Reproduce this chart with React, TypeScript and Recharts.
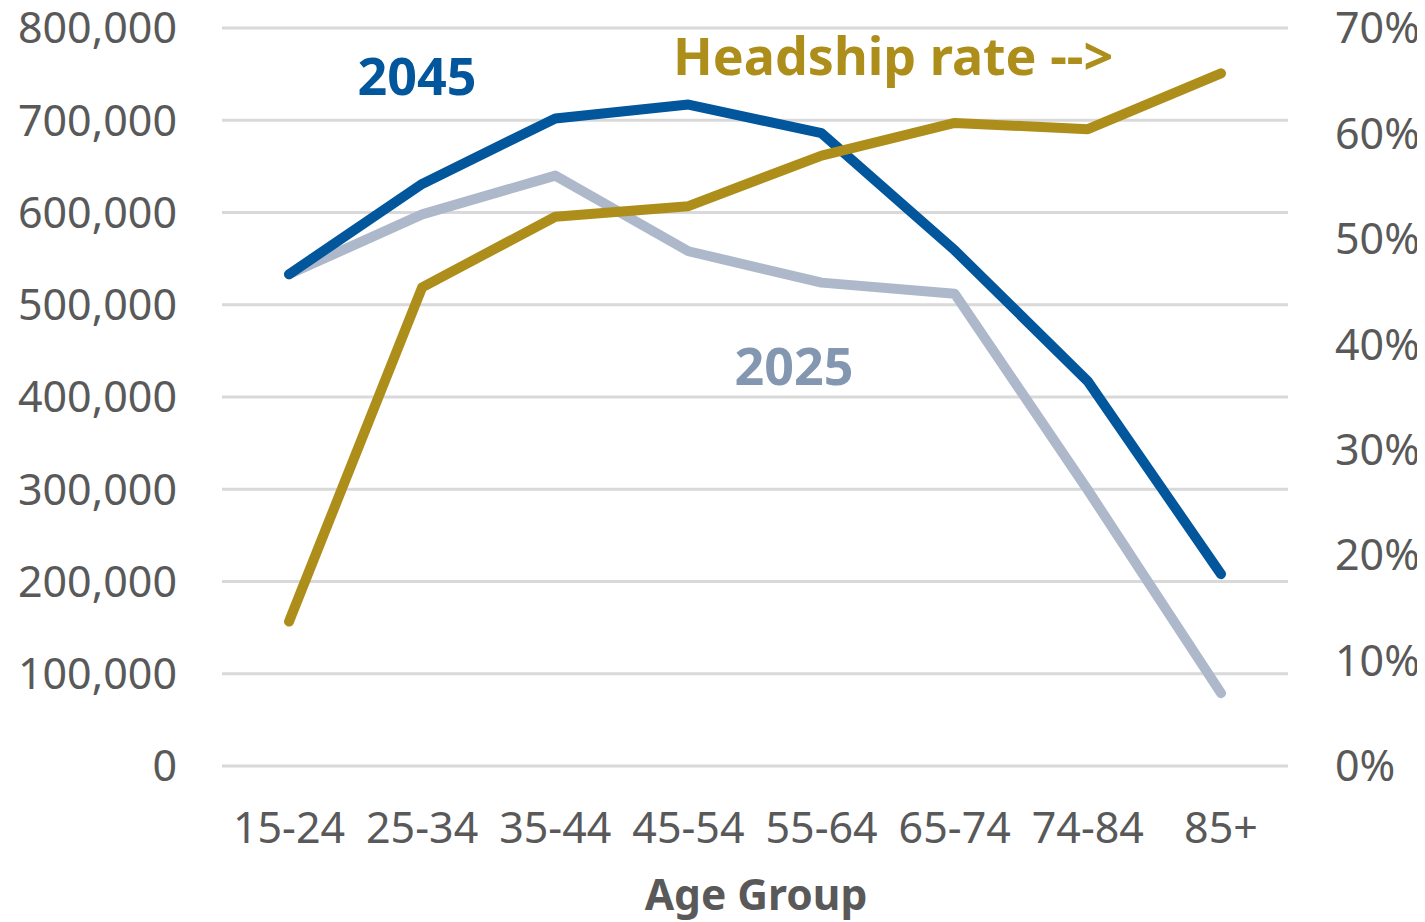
import React from "react";
import { LineChart, Line, XAxis, YAxis, CartesianGrid } from "recharts";

const ageGroups = ["15-24", "25-34", "35-44", "45-54", "55-64", "65-74", "74-84", "85+"];
const households2045 = [533000, 631000, 702000, 717000, 686000, 559000, 417000, 208000];
const households2025 = [533000, 598000, 640000, 558000, 524000, 512000, 299000, 79000];
const headshipRate = [0.137, 0.454, 0.521, 0.531, 0.579, 0.61, 0.604, 0.657];
const leftTicks = [0, 100000, 200000, 300000, 400000, 500000, 600000, 700000, 800000];
const rightTicks = [0, 0.1, 0.2, 0.3, 0.4, 0.5, 0.6, 0.7];

const data = ageGroups.map((g, i) => ({
  group: g,
  y2045: households2045[i],
  y2025: households2025[i],
  rate: headshipRate[i],
}));

const FONT = "'Noto Sans', 'Open Sans', sans-serif";
const TICK = { fill: "#595959", fontSize: 43, fontFamily: FONT };

export default function App() {
  return (
    <div style={{ marginTop: -8, marginLeft: -8, width: 1425, height: 922 }}>
      <LineChart
        width={1425}
        height={922}
        data={data}
        margin={{ top: 28, right: 0, bottom: 0, left: 0 }}
      >
        <CartesianGrid yAxisId="left" vertical={false} stroke="#d9d9d9" strokeWidth={3} />
        <XAxis
          dataKey="group"
          axisLine={false}
          tickLine={false}
          tickSize={0}
          tickMargin={46}
          height={156}
          padding={{ left: 67, right: 67 }}
          tick={TICK}
          interval={0}
        />
        <YAxis
          yAxisId="left"
          orientation="left"
          domain={[0, 800000]}
          ticks={leftTicks}
          width={222}
          axisLine={false}
          tickLine={false}
          tickSize={0}
          tickMargin={45}
          tick={TICK}
          tickFormatter={(v: number) => v.toLocaleString("en-US")}
        />
        <YAxis
          yAxisId="right"
          orientation="right"
          domain={[0, 0.7]}
          ticks={rightTicks}
          width={137}
          axisLine={false}
          tickLine={false}
          tickSize={0}
          tickMargin={47}
          tick={TICK}
          tickFormatter={(v: number) => `${Math.round(v * 100)}%`}
        />
        <Line
          yAxisId="left"
          dataKey="y2025"
          stroke="#adb9cb"
          strokeWidth={10}
          strokeLinecap="round"
          strokeLinejoin="round"
          dot={false}
          activeDot={false}
          isAnimationActive={false}
        />
        <Line
          yAxisId="left"
          dataKey="y2045"
          stroke="#02569c"
          strokeWidth={10}
          strokeLinecap="round"
          strokeLinejoin="round"
          dot={false}
          activeDot={false}
          isAnimationActive={false}
        />
        <Line
          yAxisId="right"
          dataKey="rate"
          stroke="#ae8e1a"
          strokeWidth={10}
          strokeLinecap="round"
          strokeLinejoin="round"
          dot={false}
          activeDot={false}
          isAnimationActive={false}
        />
        <text x={417} y={95} textAnchor="middle" fill="#02569c" fontSize={52} fontWeight="bold" fontFamily={FONT}>
          2045
        </text>
        <text x={794} y={385} textAnchor="middle" fill="#8497b0" fontSize={52} fontWeight="bold" fontFamily={FONT}>
          2025
        </text>
        <text x={673} y={75} textAnchor="start" fill="#ae8e1a" fontSize={52} fontWeight="bold" fontFamily={FONT}>
          Headship rate --&gt;
        </text>
        <text x={756} y={910} textAnchor="middle" fill="#595959" fontSize={42.5} fontWeight="bold" fontFamily={FONT}>
          Age Group
        </text>
      </LineChart>
    </div>
  );
}
